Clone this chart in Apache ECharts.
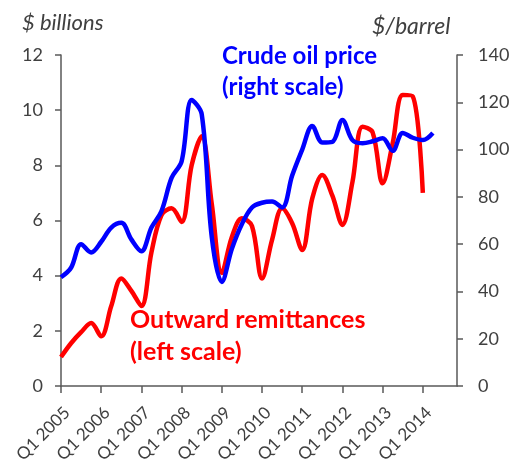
<!DOCTYPE html>
<html>
<head>
<meta charset="utf-8">
<script src="https://cdn.jsdelivr.net/npm/echarts@6/dist/echarts.min.js"></script>
<style>html,body{margin:0;padding:0;background:#fff;}#c{width:512px;height:463px;}</style>
</head>
<body>
<div id="c"></div>
<script>
// Quarter index 0 = Q1 2005
var yearTicks = [0, 4, 8, 12, 16, 20, 24, 28, 32, 36];
var yearLabels = ['Q1 2005','Q1 2006','Q1 2007','Q1 2008','Q1 2009','Q1 2010','Q1 2011','Q1 2012','Q1 2013','Q1 2014'];
// Outward remittances, $ billions (left scale), Q1 2005 .. Q1 2014
var remittances = [1.05, 1.55, 1.95, 2.28, 1.8, 2.9, 3.9, 3.45, 2.9, 4.85,
                   6.2, 6.44, 5.95, 8.0, 9.05, 6.6, 4.1, 5.4, 6.08, 5.8,
                   3.9, 5.3, 6.44, 5.9, 4.93, 6.8, 7.65, 6.9, 5.84, 7.4,
                   9.4, 9.2, 7.35, 8.8, 10.55, 10.5, 7.0];
// Crude oil price, $/barrel (right scale), Q1 2005 .. Q2 2014
var crude = [46, 50, 60, 56.5, 61, 67, 69, 62, 57, 67,
             74, 88, 95, 121, 115, 63, 44, 58, 68.5, 75.5,
             77.5, 78, 75.5, 89, 100, 110, 103, 103.3, 112.5, 104,
             102.7, 103.5, 104.8, 99.5, 107, 105, 104, 107];

function pairs(arr) { return arr.map(function (v, i) { return [i, v]; }); }

var font = 'Lato, "Open Sans", sans-serif';
var axisColor = '#595959';
var labelColor = '#404040';

var chart = echarts.init(document.getElementById('c'), null, {renderer: 'canvas'});
chart.setOption({
  animation: false,
  backgroundColor: '#ffffff',
  grid: {left: 61, right: 55, top: 55, bottom: 77, containLabel: false, outerBoundsMode: 'none'},
  xAxis: {
    type: 'value', min: 0, max: 39.4,
    splitLine: {show: false},
    axisLine: {show: true, lineStyle: {color: axisColor, width: 1.5}},
    axisTick: {show: true, customValues: yearTicks, length: 7, lineStyle: {color: axisColor, width: 1.5}},
    axisLabel: {
      customValues: yearTicks, rotate: 45, margin: 18,
      align: 'right', verticalAlign: 'top',
      fontFamily: font, fontSize: 17, color: labelColor,
      formatter: function (v) { return yearLabels[yearTicks.indexOf(Math.round(v))] || ''; }
    }
  },
  yAxis: [
    {
      type: 'value', min: 0, max: 12, interval: 2, position: 'left',
      splitLine: {show: false},
      axisLine: {show: true, lineStyle: {color: axisColor, width: 1.5}},
      axisTick: {show: true, length: 6, lineStyle: {color: axisColor, width: 1.5}},
      axisLabel: {fontFamily: font, fontSize: 18, color: labelColor, margin: 18}
    },
    {
      type: 'value', min: 0, max: 140, interval: 20, position: 'right',
      splitLine: {show: false},
      axisLine: {show: true, lineStyle: {color: axisColor, width: 1.5}},
      axisTick: {show: true, length: 6, lineStyle: {color: axisColor, width: 1.5}},
      axisLabel: {fontFamily: font, fontSize: 18, color: labelColor, margin: 21}
    }
  ],
  series: [
    {
      name: 'Outward remittances', type: 'line', yAxisIndex: 0,
      data: pairs(remittances), smooth: 0.35, showSymbol: false,
      lineStyle: {color: '#ff0000', width: 4.5}
    },
    {
      name: 'Crude oil price', type: 'line', yAxisIndex: 1,
      data: pairs(crude), smooth: 0.35, showSymbol: false,
      lineStyle: {color: '#0000ff', width: 4.5}
    }
  ],
  graphic: [
    {type: 'text', left: 22, top: 12, style: {text: '$ billions', font: 'italic 22px ' + font, fill: labelColor}},
    {type: 'text', left: 372, top: 15, style: {text: '$/barrel', font: 'italic 23px ' + font, fill: labelColor}},
    {type: 'text', left: 222, top: 41, style: {text: 'Crude oil price\n(right scale)', font: 'bold 24px ' + font, fill: '#0000ff', lineHeight: 31}},
    {type: 'text', left: 130, top: 304, style: {text: 'Outward remittances\n(left scale)', font: 'bold 25px ' + font, fill: '#ff0000', lineHeight: 32}}
  ]
});
</script>
</body>
</html>
